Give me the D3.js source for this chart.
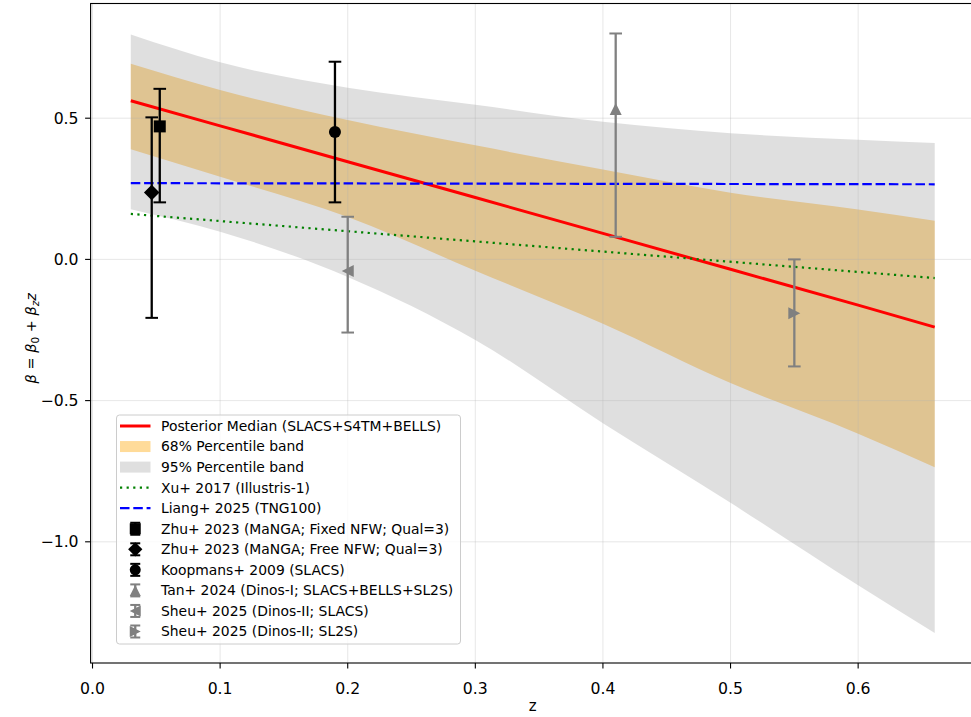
<!DOCTYPE html>
<html lang="en">
<head>
<meta charset="utf-8" />
<script src="https://d3js.org/d3.v7.min.js"></script>
<title>beta evolution with redshift</title>
<style>
  body { margin: 0; background: #fff; }
  svg { display: block; font-family: "DejaVu Sans", sans-serif; }
</style>
</head>
<body>
<div id="container"></div>
<script>
// posterior bands
const zGrid    = [0.03, 0.1, 0.2, 0.3, 0.4, 0.5, 0.6, 0.66];
const median   = [0.562, 0.473, 0.346, 0.219, 0.092, -0.035, -0.162, -0.240];
const lo68     = [0.390, 0.293, 0.150, -0.040, -0.228, -0.438, -0.617, -0.736];
const hi68     = [0.693, 0.600, 0.494, 0.404, 0.318, 0.236, 0.177, 0.137];
const lo95     = [0.178, 0.098, -0.062, -0.285, -0.580, -0.862, -1.154, -1.323];
const hi95     = [0.796, 0.698, 0.608, 0.548, 0.487, 0.447, 0.424, 0.412];

// simulation lines
const simZ     = [0.03, 0.66];
const xu2017   = [0.161, -0.066];
const liang2025 = [0.270, 0.266];

// literature measurements
const pointLabels = [
  'Zhu+ 2023 (MaNGA; Fixed NFW; Qual=3)',
  'Zhu+ 2023 (MaNGA; Free NFW; Qual=3)',
  'Koopmans+ 2009 (SLACS)',
  'Tan+ 2024 (Dinos-I; SLACS+BELLS+SL2S)',
  'Sheu+ 2025 (Dinos-II; SLACS)',
  'Sheu+ 2025 (Dinos-II; SL2S)'
];
const pointZ    = [0.0527, 0.0464, 0.19, 0.41, 0.20, 0.55];
const pointBeta = [0.471, 0.237, 0.451, 0.533, -0.041, -0.191];
const pointLow  = [0.202, -0.207, 0.202, 0.080, -0.259, -0.379];
const pointHigh = [0.604, 0.503, 0.700, 0.800, 0.151, 0.000];

const xTicks = [0.0, 0.1, 0.2, 0.3, 0.4, 0.5, 0.6];
const yTicks = [-1.0, -0.5, 0.0, 0.5];

// styling per point series
const pointColor  = ['black', 'black', 'black', 'gray', 'gray', 'gray'];
const pointMarker = ['square', 'diamond', 'circle', 'up', 'left', 'right'];

const W = 971, H = 717;
const mLeft = 90.6, mRight = 974.9, mTop = 3.5, mBottom = 663;
const tickFont = 15.7;

const svg = d3.select('#container').append('svg')
  .attr('width', W).attr('height', H);

// autoscale like matplotlib: data extent + 5% padding
const allZ = zGrid.concat(pointZ);
const allY = lo95.concat(hi95, pointLow, pointHigh);
const zExt = d3.extent(allZ), yExt = d3.extent(allY);
const zPad = (zExt[1] - zExt[0]) * 0.05, yPad = (yExt[1] - yExt[0]) * 0.05;

const x = d3.scaleLinear().domain([zExt[0] - zPad, zExt[1] + zPad]).range([mLeft, mRight]);
const y = d3.scaleLinear().domain([yExt[0] - yPad, yExt[1] + yPad]).range([mBottom, mTop]);

const band = (lo, hi) => d3.area()
  .x((d, i) => x(zGrid[i]))
  .y0((d, i) => y(lo[i]))
  .y1((d, i) => y(hi[i]))
  .curve(d3.curveMonotoneX);

// 68% first, 95% on top of it
svg.append('path').datum(zGrid)
  .attr('d', band(lo68, hi68))
  .attr('fill', 'orange').attr('fill-opacity', 0.4);
svg.append('path').datum(zGrid)
  .attr('d', band(lo95, hi95))
  .attr('fill', 'gray').attr('fill-opacity', 0.25);

// grid
const grid = svg.append('g').attr('stroke', '#b0b0b0').attr('stroke-opacity', 0.3).attr('stroke-width', 1);
grid.selectAll('.gx').data(xTicks).enter().append('line')
  .attr('x1', d => x(d)).attr('x2', d => x(d)).attr('y1', mTop).attr('y2', mBottom);
grid.selectAll('.gy').data(yTicks).enter().append('line')
  .attr('y1', d => y(d)).attr('y2', d => y(d)).attr('x1', mLeft).attr('x2', mRight);

// median + sim lines
const lineOf = (zs, vs) => d3.line().x((d, i) => x(zs[i])).y((d, i) => y(vs[i]))(vs);

svg.append('path').attr('d', lineOf(zGrid, median))
  .attr('fill', 'none').attr('stroke', 'red').attr('stroke-width', 3);
svg.append('path').attr('d', lineOf(simZ, xu2017))
  .attr('fill', 'none').attr('stroke', 'green').attr('stroke-width', 2.2)
  .attr('stroke-dasharray', '2.2,4.4');
svg.append('path').attr('d', lineOf(simZ, liang2025))
  .attr('fill', 'none').attr('stroke', 'blue').attr('stroke-width', 2.2)
  .attr('stroke-dasharray', '9.5,3.8');

const markerPath = (type, s) => {
  if (type === 'square') return `M${-s},${-s}H${s}V${s}H${-s}Z`;
  if (type === 'diamond') { const d = s * 1.3; return `M0,${-d}L${d},0L0,${d}L${-d},0Z`; }
  if (type === 'up') return `M0,${-s}L${s},${s}L${-s},${s}Z`;
  if (type === 'left') return `M${-s},0L${s},${-s}L${s},${s}Z`;
  if (type === 'right') return `M${s},0L${-s},${-s}L${-s},${s}Z`;
  return null;
};

const drawMarker = (g, type, color, s) => {
  if (type === 'circle') {
    g.append('circle').attr('r', s).attr('fill', color);
  } else {
    g.append('path').attr('d', markerPath(type, s)).attr('fill', color);
  }
};

// error bars
pointZ.forEach((z, i) => {
  const g = svg.append('g');
  const cx = x(z), c = pointColor[i];
  g.append('line').attr('x1', cx).attr('x2', cx)
    .attr('y1', y(pointLow[i])).attr('y2', y(pointHigh[i]))
    .attr('stroke', c).attr('stroke-width', 2.3);
  [pointLow[i], pointHigh[i]].forEach(v => {
    g.append('line').attr('x1', cx - 6.3).attr('x2', cx + 6.3)
      .attr('y1', y(v)).attr('y2', y(v))
      .attr('stroke', c).attr('stroke-width', 2);
  });
  const m = g.append('g').attr('transform', `translate(${cx},${y(pointBeta[i])})`);
  drawMarker(m, pointMarker[i], c, 6);
});

// frame
svg.append('rect').attr('x', mLeft).attr('y', mTop)
  .attr('width', mRight - mLeft).attr('height', mBottom - mTop)
  .attr('fill', 'none').attr('stroke', 'black').attr('stroke-width', 1.1);

// axes ticks
const xAxis = svg.append('g');
xTicks.forEach(t => {
  xAxis.append('line').attr('x1', x(t)).attr('x2', x(t)).attr('y1', mBottom).attr('y2', mBottom + 5.5)
    .attr('stroke', 'black').attr('stroke-width', 1.1);
  xAxis.append('text').attr('x', x(t)).attr('y', mBottom + 31)
    .attr('text-anchor', 'middle').attr('font-size', tickFont).text(d3.format('.1f')(t));
});
const yAxis = svg.append('g');
yTicks.forEach(t => {
  yAxis.append('line').attr('x1', mLeft - 5.5).attr('x2', mLeft).attr('y1', y(t)).attr('y2', y(t))
    .attr('stroke', 'black').attr('stroke-width', 1.1);
  yAxis.append('text').attr('x', mLeft - 12).attr('y', y(t)).attr('dy', '0.36em')
    .attr('text-anchor', 'end').attr('font-size', tickFont).text(d3.format('.1f')(t).replace('-', '\u2212'));
});

svg.append('text').attr('x', (mLeft + mRight) / 2).attr('y', 711)
  .attr('text-anchor', 'middle').attr('font-size', 15).text('z');

const ylab = svg.append('text')
  .attr('transform', `translate(36,${(mTop + mBottom) / 2 + 5}) rotate(-90)`)
  .attr('text-anchor', 'middle').attr('font-size', 14.5);
ylab.append('tspan').attr('font-style', 'italic').text('\u03b2');
ylab.append('tspan').text(' = ');
ylab.append('tspan').attr('font-style', 'italic').text('\u03b2');
ylab.append('tspan').attr('font-size', 10.5).attr('dy', 3).text('0');
ylab.append('tspan').attr('dy', -3).text(' + ');
ylab.append('tspan').attr('font-style', 'italic').text('\u03b2');
ylab.append('tspan').attr('font-size', 10.5).attr('font-style', 'italic').attr('dy', 3).text('z');
ylab.append('tspan').attr('font-style', 'italic').attr('dy', -3).text('z');

// legend
const lg = svg.append('g');
lg.append('rect').attr('x', 116.5).attr('y', 415).attr('width', 344).attr('height', 229)
  .attr('rx', 3).attr('fill', 'white').attr('fill-opacity', 0.8)
  .attr('stroke', '#cccccc').attr('stroke-width', 1);

const rowY = i => 426 + i * 20.55;
const hx0 = 120, hx1 = 150.5, tx = 161;
const entries = [
  'Posterior Median (SLACS+S4TM+BELLS)', '68% Percentile band', '95% Percentile band',
  'Xu+ 2017 (Illustris-1)', 'Liang+ 2025 (TNG100)'
].concat(pointLabels);

entries.forEach((t, i) => {
  lg.append('text').attr('x', tx).attr('y', rowY(i)).attr('dy', '0.35em')
    .attr('font-size', 13.9).attr('fill', 'black').text(t);
});
lg.append('line').attr('x1', hx0).attr('x2', hx1).attr('y1', rowY(0)).attr('y2', rowY(0))
  .attr('stroke', 'red').attr('stroke-width', 3);
lg.append('rect').attr('x', hx0).attr('y', rowY(1) - 5.5).attr('width', hx1 - hx0).attr('height', 11)
  .attr('fill', 'orange').attr('fill-opacity', 0.4);
lg.append('rect').attr('x', hx0).attr('y', rowY(2) - 5.5).attr('width', hx1 - hx0).attr('height', 11)
  .attr('fill', 'gray').attr('fill-opacity', 0.25);
lg.append('line').attr('x1', hx0).attr('x2', hx1).attr('y1', rowY(3)).attr('y2', rowY(3))
  .attr('stroke', 'green').attr('stroke-width', 2.2).attr('stroke-dasharray', '2.2,4.4');
lg.append('line').attr('x1', hx0).attr('x2', hx1).attr('y1', rowY(4)).attr('y2', rowY(4))
  .attr('stroke', 'blue').attr('stroke-width', 2.2).attr('stroke-dasharray', '9.5,3.8');

pointLabels.forEach((t, k) => {
  const cy = rowY(5 + k), cx = (hx0 + hx1) / 2, c = pointColor[k];
  lg.append('line').attr('x1', cx).attr('x2', cx).attr('y1', cy - 6).attr('y2', cy + 6)
    .attr('stroke', c).attr('stroke-width', 2.3);
  [cy - 6, cy + 6].forEach(v => lg.append('line').attr('x1', cx - 5).attr('x2', cx + 5)
    .attr('y1', v).attr('y2', v).attr('stroke', c).attr('stroke-width', 2));
  const m = lg.append('g').attr('transform', `translate(${cx},${cy})`);
  drawMarker(m, pointMarker[k], c, 5.5);
});
</script>
</body>
</html>
